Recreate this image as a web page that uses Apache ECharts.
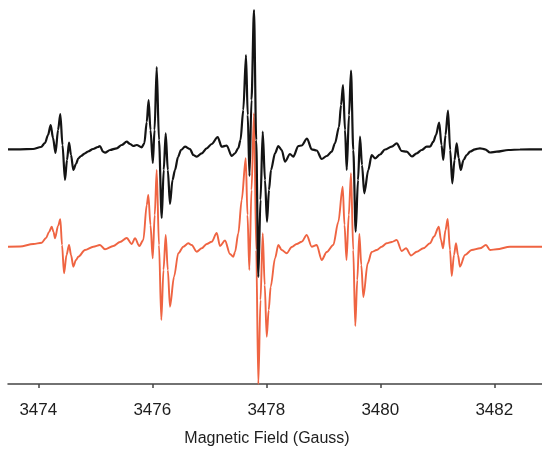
<!DOCTYPE html>
<html>
<head>
<meta charset="utf-8">
<script src="https://cdn.jsdelivr.net/npm/echarts@6/dist/echarts.min.js"></script>
<style>
html,body{margin:0;padding:0;background:#fff;}
#chart{width:542px;height:452px;}
</style>
</head>
<body>
<div id="chart"></div>
<script>
// Magnetic field axis (Gauss)
const fieldMin = 3473.468;
const fieldMax = 3482.837;
const tickValues = [3474, 3476, 3478, 3480, 3482];
const xAxisTitle = 'Magnetic Field (Gauss)';

// Experimental spectrum: [field (G), intensity (a.u.)]
const experimental = [
[3473.468,0],[3473.679,0],[3473.907,0.3],[3474.047,2.3],[3474.117,6.3],[3474.170,14.3],
[3474.217,24.3],[3474.258,11.3],[3474.302,-3.7],[3474.346,19.3],[3474.386,35.3],[3474.424,4.3],
[3474.468,-30.7],[3474.503,-10.7],[3474.539,6.8],[3474.574,-5.7],[3474.614,-20.7],[3474.661,-14.7],
[3474.702,-9],[3474.749,-6.7],[3474.819,-4],[3474.872,-2.2],[3474.960,0.3],[3475.047,2.3],
[3475.082,3.3],[3475.135,-2.4],[3475.170,-3.4],[3475.258,-0.7],[3475.375,1],[3475.463,4.3],
[3475.551,7.6],[3475.609,5.3],[3475.667,3.3],[3475.726,4.3],[3475.814,2],[3475.860,6],
[3475.902,27.3],[3475.935,49.3],[3475.968,19.3],[3476.009,-13.7],[3476.039,19.3],[3476.077,82.3],
[3476.117,9.3],[3476.165,-68.7],[3476.200,-20.7],[3476.235,16],[3476.272,-20.7],[3476.310,-54.7],
[3476.354,-30.7],[3476.398,-20.7],[3476.451,-7.7],[3476.503,-0.7],[3476.574,2.6],[3476.661,0.3],
[3476.719,-5.7],[3476.779,-7.4],[3476.867,-4],[3476.954,1],[3477.042,5.3],[3477.147,12.3],
[3477.217,2.6],[3477.305,3.8],[3477.393,-6.7],[3477.451,-4],[3477.509,1.3],[3477.547,9.3],
[3477.596,39.3],[3477.644,94.3],[3477.674,34.3],[3477.705,-26.7],[3477.740,49.3],[3477.784,139.3],
[3477.823,9.3],[3477.860,-127.7],[3477.898,-50.7],[3477.937,17.6],[3477.977,-30.7],[3478.012,-72.4],
[3478.047,-40.7],[3478.082,-20.7],[3478.153,-4],[3478.211,3.3],[3478.270,-0.7],[3478.328,-12.4],
[3478.416,-4.7],[3478.474,-7.4],[3478.561,3.3],[3478.621,3.8],[3478.714,10.8],[3478.796,0],
[3478.884,-1.2],[3478.972,-9.7],[3479.060,-6.7],[3479.147,-2.4],[3479.205,6],[3479.275,22.3],
[3479.311,44.3],[3479.346,64.3],[3479.381,19.3],[3479.411,-20.7],[3479.451,34.3],[3479.486,78.6],
[3479.526,-0.7],[3479.568,-82.4],[3479.609,-30.7],[3479.644,12.6],[3479.679,-15.7],[3479.719,-44],
[3479.789,-20.7],[3479.849,-5.7],[3479.907,-9],[3479.995,-5.2],[3480.082,-0.2],[3480.200,2.6],
[3480.288,6],[3480.375,-1.7],[3480.463,-2.4],[3480.556,-7.2],[3480.639,-4],[3480.726,-0.7],
[3480.814,2.6],[3480.872,2.6],[3480.930,7.6],[3480.977,14.3],[3481.033,26.8],[3481.074,4.3],
[3481.105,-10.7],[3481.144,14.3],[3481.188,38.8],[3481.226,-0.7],[3481.263,-34],[3481.302,-10.7],
[3481.340,6],[3481.375,-8.7],[3481.411,-20.7],[3481.460,-10.7],[3481.516,-5.7],[3481.574,-2.4],
[3481.661,0],[3481.749,1],[3481.837,0],[3481.925,-3.2],[3482.042,-2.4],[3482.246,-0.7],
[3482.451,-0.2],[3482.837,0]
];

// Simulated spectrum: [field (G), intensity (a.u.)]
const simulated = [
[3473.468,0],[3473.679,0.2],[3473.912,2.7],[3474.060,4],[3474.135,8.7],[3474.188,14.7],
[3474.235,20],[3474.267,14.7],[3474.293,8.4],[3474.346,20.7],[3474.386,27.4],[3474.416,1.7],
[3474.451,-26.6],[3474.495,-8.3],[3474.539,1.7],[3474.574,-8.3],[3474.614,-20],[3474.661,-13.3],
[3474.702,-10],[3474.819,-3.3],[3474.965,0],[3475.082,1.7],[3475.170,-2.6],[3475.316,0.7],
[3475.433,4.7],[3475.551,8.7],[3475.639,2.7],[3475.696,8.4],[3475.772,0.7],[3475.842,6.7],
[3475.902,41.7],[3475.930,51.7],[3475.968,21.7],[3476.007,-11.6],[3476.042,31.7],[3476.077,76.7],
[3476.117,1.7],[3476.158,-73.3],[3476.196,-23.3],[3476.235,11.7],[3476.272,-23.3],[3476.310,-60],
[3476.381,-30],[3476.456,-6.6],[3476.544,0],[3476.632,3.4],[3476.691,1.7],[3476.779,-5],
[3476.867,-1.6],[3476.954,2.7],[3477.042,5],[3477.130,13.7],[3477.188,0.7],[3477.275,6.2],
[3477.363,-7.3],[3477.421,-10],[3477.451,-5.3],[3477.509,13.4],[3477.568,46.7],[3477.639,88.4],
[3477.670,31.7],[3477.702,-23.3],[3477.740,56.7],[3477.784,133.4],[3477.823,-3.3],[3477.860,-137.3],
[3477.898,-53.3],[3477.937,13.4],[3477.972,-38.3],[3478.007,-90],[3478.042,-63.3],[3478.077,-40],
[3478.153,-11.6],[3478.211,1.7],[3478.270,-3.3],[3478.358,-6.6],[3478.446,-0.3],[3478.533,2.7],
[3478.621,5],[3478.709,11.7],[3478.796,0],[3478.884,1.7],[3478.972,-13.3],[3479.060,-5.3],
[3479.175,1.7],[3479.263,24.7],[3479.340,60],[3479.372,21.7],[3479.407,-13.3],[3479.447,31.7],
[3479.486,73.4],[3479.525,-3.3],[3479.561,-79.3],[3479.596,-33.3],[3479.632,12.7],[3479.667,-18.3],
[3479.702,-50.3],[3479.779,-16.6],[3479.849,-5.3],[3479.937,-3.3],[3480.025,0],[3480.112,3.4],
[3480.200,4.7],[3480.288,6.7],[3480.375,-4.3],[3480.451,-1.6],[3480.539,-8.8],[3480.639,-5],
[3480.754,-1.6],[3480.872,3.4],[3480.942,10.2],[3481.026,20],[3481.065,6.7],[3481.100,-1.6],
[3481.144,16.7],[3481.182,27.7],[3481.223,-3.3],[3481.253,-29.3],[3481.293,-8.3],[3481.328,3.4],
[3481.363,-8.3],[3481.398,-20],[3481.486,-8.3],[3481.603,-3.3],[3481.749,-1.6],[3481.854,1.7],
[3481.925,-3.3],[3482.042,-2.6],[3482.275,0],[3482.837,0]
];

// Vertical offset used to stack the experimental trace above the simulation
const stackOffset = 97.4;

const expShifted = experimental.map(p => [p[0], p[1] + stackOffset]);

const chart = echarts.init(document.getElementById('chart'), null, {renderer: 'canvas'});
chart.setOption({
  animation: false,
  backgroundColor: '#ffffff',
  grid: {left: 8, right: 0, top: 0, bottom: 68, containLabel: false},
  xAxis: {
    type: 'value',
    min: fieldMin,
    max: fieldMax,
    name: xAxisTitle,
    nameLocation: 'middle',
    nameGap: 47,
    nameTextStyle: {fontFamily: 'Liberation Sans, Arial, sans-serif', fontSize: 16, color: '#1e1e1e', padding: [0, 16, 0, 0]},
    axisLine: {show: true, onZero: false, lineStyle: {color: '#444', width: 1.5}},
    axisTick: {show: true, inside: false, length: 4, customValues: tickValues, lineStyle: {color: '#444', width: 1.5}},
    axisLabel: {customValues: tickValues, margin: 18, fontFamily: 'Liberation Sans, Arial, sans-serif', fontSize: 17, color: '#1e1e1e', formatter: v => String(v)},
    splitLine: {show: false}
  },
  yAxis: {
    type: 'value',
    min: -137.3,
    max: 246.7,
    show: false
  },
  series: [
    {
      name: 'Simulated',
      type: 'line',
      data: simulated,
      showSymbol: false,
      smooth: 0.3,
      smoothMonotone: 'x',
      clip: true,
      lineStyle: {color: '#ef6442', width: 1.9},
      z: 2
    },
    {
      name: 'Experimental',
      type: 'line',
      data: expShifted,
      showSymbol: false,
      smooth: 0.3,
      smoothMonotone: 'x',
      clip: true,
      lineStyle: {color: '#141414', width: 2.2},
      z: 3
    }
  ]
});
</script>
</body>
</html>
